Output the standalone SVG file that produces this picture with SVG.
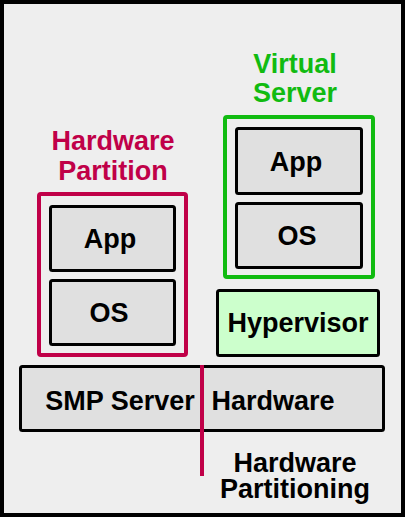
<svg xmlns="http://www.w3.org/2000/svg" width="405" height="517" viewBox="0 0 405 517">
<style>
text{font-family:"Liberation Sans",Arial,sans-serif;font-weight:bold;font-size:27px;text-anchor:middle}
.box{fill:#e0e0e0;stroke:#000;stroke-width:3}
.red{fill:#c00048}
.green{fill:#11bb11}
</style>
<rect x="2" y="2" width="401" height="513" fill="#eeeeee" stroke="#000" stroke-width="4"/>
<g id="virtual-server">
<rect x="225" y="117" width="148" height="160" rx="2" fill="none" stroke="#11bb11" stroke-width="4"/>
<text class="green" x="295" y="73">Virtual</text>
<text class="green" x="295" y="102">Server</text>
</g>
<g id="vs-app"><rect class="box" x="236.5" y="128.5" width="125" height="65" rx="2"/><text x="296" y="171">App</text></g>
<g id="vs-os"><rect class="box" x="236.5" y="203.5" width="125" height="64" rx="2"/><text x="297" y="245">OS</text></g>
<g id="hardware-partition">
<rect x="39" y="194" width="147" height="161" rx="2" fill="none" stroke="#c00048" stroke-width="4"/>
<text class="red" x="113" y="150">Hardware</text>
<text class="red" x="113" y="180">Partition</text>
</g>
<g id="hp-app"><rect class="box" x="50.5" y="206.5" width="124" height="64" rx="2"/><text x="110" y="248">App</text></g>
<g id="hp-os"><rect class="box" x="50.5" y="280.5" width="124" height="64" rx="2"/><text x="109" y="322">OS</text></g>
<g id="hypervisor"><rect x="217.5" y="290.5" width="161" height="65" rx="2" fill="#ccffcc" stroke="#000" stroke-width="3"/><text x="298" y="332">Hypervisor</text></g>
<g id="smp-server"><rect class="box" x="20.5" y="366.5" width="363" height="64" rx="2"/><text x="120" y="410">SMP Server</text><text x="273" y="410">Hardware</text></g>
<g id="connectors">
<line x1="202" y1="365" x2="202" y2="476" stroke="#c00048" stroke-width="4"/>
</g>
<g id="hardware-partitioning">
<text x="295" y="472">Hardware</text>
<text x="295" y="498">Partitioning</text>
</g>
</svg>
